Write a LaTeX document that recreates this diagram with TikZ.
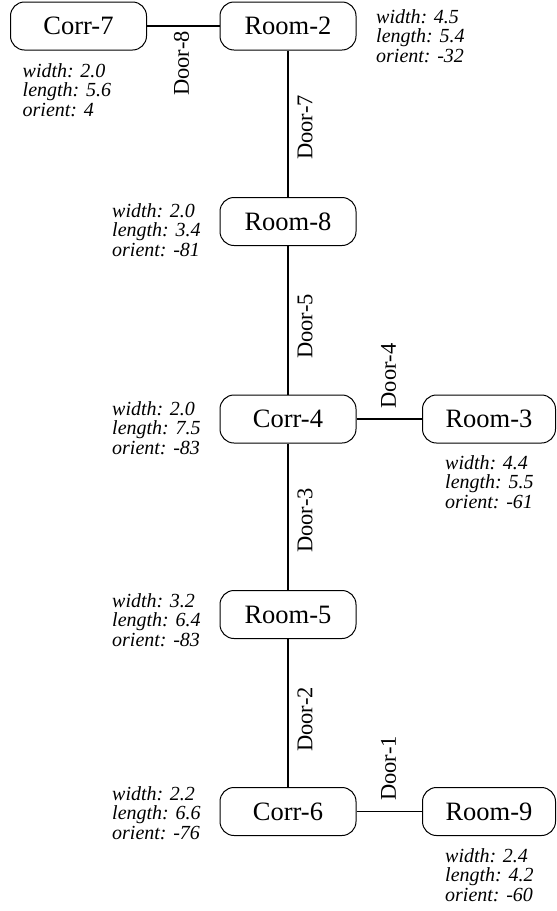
\documentclass[tikz,border=0pt]{standalone}
\usepackage{fontspec}
\setmainfont{Liberation Serif}
\begin{document}
\begin{tikzpicture}[x=1pt,y=-1pt,
  room/.style={draw, line width=1pt, rounded corners=14pt, minimum width=136pt, minimum height=48pt, inner sep=2pt, font=\fontsize{26.5}{30}\selectfont},
  link/.style={line width=1.8pt},
  door/.style={rotate=90, inner sep=0pt, font=\fontsize{22.5}{25}\selectfont},
  info/.style={anchor=base west, inner sep=0pt, font=\itshape\fontsize{20}{19.7}\selectfont}]
\useasboundingbox (0,0) rectangle (557,911);

\node[room] (corr7) at (78.5,26) {Corr-7};
\node[room] (room2) at (288,26) {Room-2};
\node[room] (room8) at (288,221.5) {Room-8};
\node[room] (corr4) at (288,419) {Corr-4};
\node[room, minimum width=133pt] (room3) at (489,419) {Room-3};
\node[room] (room5) at (288,614.5) {Room-5};
\node[room] (corr6) at (288,811.5) {Corr-6};
\node[room, minimum width=133pt] (room9) at (489,811.5) {Room-9};

\draw[link] (corr7) -- (room2);
\draw[link] (room2) -- (room8);
\draw[link] (room8) -- (corr4);
\draw[link] (corr4) -- (room3);
\draw[link] (corr4) -- (room5);
\draw[link] (room5) -- (corr6);
\draw[link] (corr6) -- (room9);

\node[door] (d8) at (181.5,63.5) {Door-8};
\node[door] (d7) at (305,127.5) {Door-7};
\node[door] (d5) at (305,326.5) {Door-5};
\node[door] (d4) at (388.5,376) {Door-4};
\node[door] (d3) at (305,520.5) {Door-3};
\node[door] (d2) at (305,719.5) {Door-2};
\node[door] (d1) at (388.5,768.5) {Door-1};

\node[info] (i7) at (22.5,77) {\begin{tabular}[t]{@{}l@{}}width: 2.0\\length: 5.6\\orient: 4\end{tabular}};
\node[info] (i2) at (376,23) {\begin{tabular}[t]{@{}l@{}}width: 4.5\\length: 5.4\\orient: -32\end{tabular}};
\node[info] (i8) at (112,217) {\begin{tabular}[t]{@{}l@{}}width: 2.0\\length: 3.4\\orient: -81\end{tabular}};
\node[info] (i4) at (112,415) {\begin{tabular}[t]{@{}l@{}}width: 2.0\\length: 7.5\\orient: -83\end{tabular}};
\node[info] (i3) at (445,469) {\begin{tabular}[t]{@{}l@{}}width: 4.4\\length: 5.5\\orient: -61\end{tabular}};
\node[info] (i5) at (112,607) {\begin{tabular}[t]{@{}l@{}}width: 3.2\\length: 6.4\\orient: -83\end{tabular}};
\node[info] (i6) at (112,800) {\begin{tabular}[t]{@{}l@{}}width: 2.2\\length: 6.6\\orient: -76\end{tabular}};
\node[info] (i9) at (445,862) {\begin{tabular}[t]{@{}l@{}}width: 2.4\\length: 4.2\\orient: -60\end{tabular}};
\end{tikzpicture}
\end{document}
